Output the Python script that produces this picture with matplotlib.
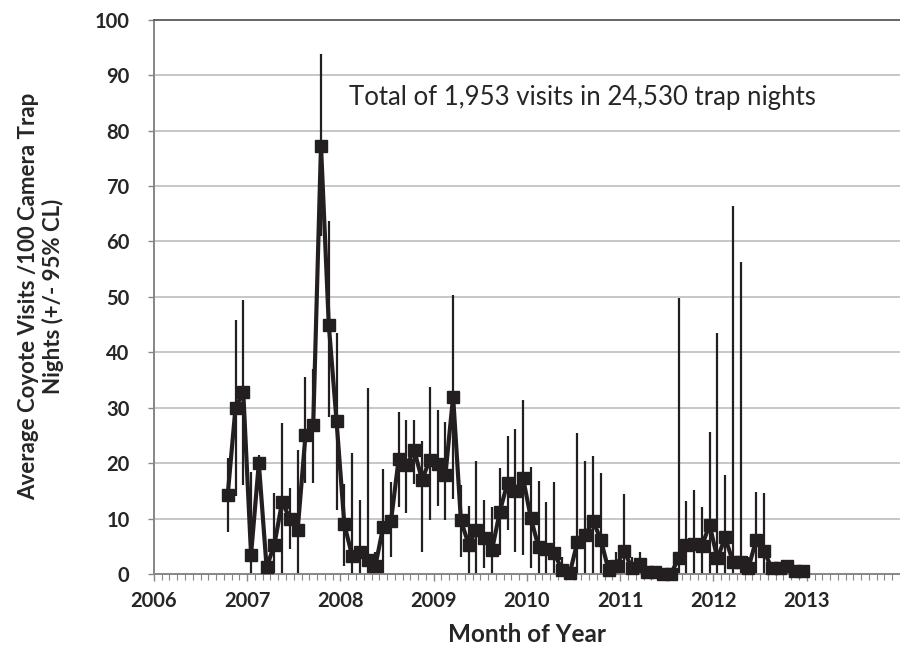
import numpy as np
import pandas as pd
import matplotlib
matplotlib.use("Agg")
import matplotlib.pyplot as plt
from matplotlib.ticker import MultipleLocator, FixedLocator

# Coyote visits per 100 camera trap nights, monthly, Oct 2006 - Dec 2012
months = pd.period_range("2006-10", "2012-12", freq="M")
visits = [14.3, 30.0, 32.8, 3.5, 20.0, 1.2, 5.3, 13.0, 10.0, 8.0, 25.0, 26.8,
          77.3, 45.0, 27.6, 9.0, 3.3, 4.0, 2.5, 1.5, 8.5, 9.5, 20.8, 19.6,
          22.3, 17.0, 20.6, 19.8, 17.8, 32.0, 9.7, 5.3, 8.0, 6.5, 4.3, 11.2,
          16.5, 15.0, 17.3, 10.1, 4.8, 4.5, 3.8, 0.8, 0.1, 5.8, 7.0, 9.6,
          6.2, 0.7, 1.5, 4.2, 1.0, 1.8, 0.3, 0.3, 0.0, 0.0, 2.8, 5.2,
          5.5, 5.0, 8.9, 2.8, 6.6, 2.2, 2.2, 1.1, 6.2, 4.2, 1.0, 1.0,
          1.5, 0.5, 0.5]
ci_low = [7.5, 14.0, 16.0, 0.0, 18.5, 0.0, 0.0, 0.0, 4.5, 0.0, 16.5, 16.4,
          61.0, 28.4, 11.5, 1.5, 0.0, 0.0, 0.0, 0.0, 0.0, 3.0, 12.1, 11.0,
          16.3, 4.0, 9.7, 12.2, 9.7, 13.6, 3.0, 0.0, 0.0, 1.0, 0.0, 3.5,
          8.0, 4.0, 3.5, 1.0, 0.0, 0.0, 0.0, 0.0, 0.0, 0.0, 0.0, 0.0,
          0.0, 0.0, 0.0, 0.0, 0.0, 0.0, 0.0, 0.0, 0.0, 0.0, 0.0, 0.0,
          0.0, 0.0, 0.0, 0.0, 0.0, 0.0, 0.0, 0.0, 0.0, 0.0, 0.0, 0.0,
          0.0, 0.0, 0.0]
ci_high = [21.0, 45.8, 49.5, 18.4, 21.5, 3.0, 14.6, 27.3, 15.6, 22.4, 35.5, 37.0,
           93.8, 63.6, 43.5, 16.3, 21.8, 13.3, 33.5, 4.0, 19.0, 16.6, 29.2, 27.8,
           27.8, 24.0, 33.7, 29.6, 27.5, 50.4, 16.0, 12.2, 20.4, 13.4, 12.1, 19.1,
           24.9, 26.1, 31.3, 19.3, 16.8, 12.9, 16.6, 3.0, 0.5, 25.4, 20.4, 21.3,
           18.2, 2.5, 4.0, 14.4, 3.0, 4.0, 1.0, 1.0, 0.0, 0.0, 49.8, 13.1,
           15.2, 12.0, 25.7, 43.5, 17.8, 66.3, 56.3, 3.0, 14.8, 14.6, 2.0, 2.0,
           2.5, 1.0, 1.0]
year_ticks = [2006, 2007, 2008, 2009, 2010, 2011, 2012, 2013]

# month -> decimal year (middle of month)
x = np.array([p.year + (p.month - 0.5) / 12 for p in months])
y = np.array(visits)
err = [y - np.array(ci_low), np.array(ci_high) - y]

plt.rcParams["font.family"] = ["Lato", "DejaVu Sans"]
dark = "#231f20"
txt = "#262626"

fig = plt.figure(figsize=(9, 6.56), dpi=100)
ax = fig.add_axes([0.171, 0.125, 0.829, 0.845])

for v in range(10, 100, 10):
	ax.axhline(v, color="#c3c3c3", lw=1.3, zorder=0)

ax.errorbar(x, y, yerr=err, fmt="none", ecolor=dark, elinewidth=1.6, capsize=0, zorder=2)
ax.plot(x, y, color=dark, lw=3, marker="s", markersize=8,
        markerfacecolor=dark, markeredgecolor=dark, zorder=3, clip_on=False)

ax.set_xlim(2006, 2014)
ax.set_ylim(0, 100)
ax.yaxis.set_major_locator(MultipleLocator(10))
ax.xaxis.set_major_locator(FixedLocator(year_ticks))
ax.xaxis.set_minor_locator(MultipleLocator(1 / 12))
ax.set_xticklabels([str(t) for t in year_ticks])

ax.spines["right"].set_visible(False)
ax.spines["left"].set_color("#868686")
ax.spines["bottom"].set_color("#868686")
ax.spines["top"].set_color("#595959")
ax.spines["left"].set_linewidth(1.4)
ax.spines["bottom"].set_linewidth(1.4)
ax.spines["top"].set_linewidth(1.3)

ax.tick_params(axis="y", which="major", length=4.5, width=1, color="#868686", labelsize=14.5, pad=13)
ax.tick_params(axis="x", which="major", length=5, width=1, color="#868686", labelsize=14.5, pad=7)
ax.tick_params(axis="x", which="minor", length=4, width=0.8, color="#868686")
for lab in ax.get_xticklabels() + ax.get_yticklabels():
	lab.set_fontweight("bold")
	lab.set_color(txt)

ax.set_xlabel("Month of Year", fontsize=17.5, fontweight="bold", color=txt, labelpad=9)
ax.set_ylabel("Average Coyote Visits /100 Camera Trap\nNights (+/- 95% CL)",
              fontsize=16, fontweight="bold", color=txt, linespacing=1.15)
ax.yaxis.set_label_coords(-0.12, 0.5)

ax.text(2008.09, 86, "Total of 1,953 visits in 24,530 trap nights",
        fontsize=18.5, color=txt, va="center", ha="left")

plt.savefig("out.png", dpi=100)
